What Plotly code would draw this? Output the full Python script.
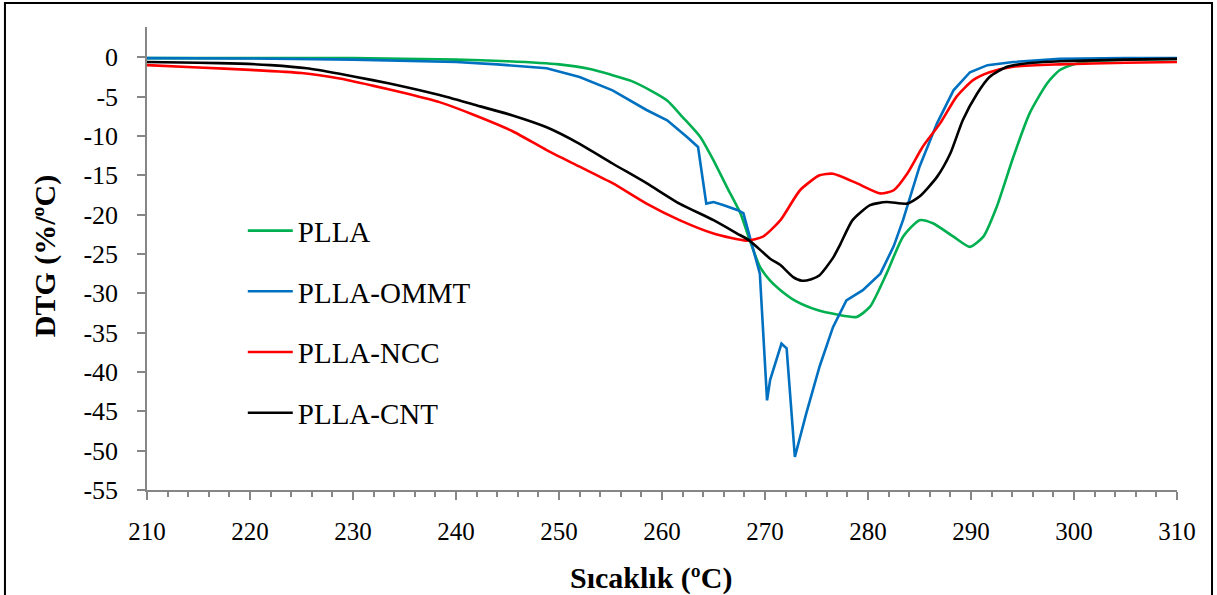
import plotly.graph_objects as go

# ---- data ----
series_names = ["PLLA", "PLLA-OMMT", "PLLA-NCC", "PLLA-CNT"]
series_colors = ["#00B050", "#0070C0", "#FF0000", "#000000"]

plla_T = [210, 220, 230, 240, 245, 250, 253, 255, 257, 259, 260.5, 262, 263.7, 265, 266.3,
          267.6, 268.5, 269.5, 270.5, 271.5, 273, 275, 277, 278.9, 280.2, 281.8, 283.4, 285,
          286.3, 288.3, 289.9, 291.2, 292.5, 294.1, 295.7, 297.4, 298.6, 300, 301.5, 305, 310]
plla_V = [-0.1, -0.1, -0.1, -0.3, -0.5, -0.9, -1.5, -2.2, -3.0, -4.3, -5.5, -7.6, -10.1, -13.1, -16.5,
          -19.8, -23.2, -26.6, -28.4, -29.6, -31.0, -32.1, -32.7, -33.0, -31.7, -27.5, -22.8, -20.7,
          -21.1, -22.8, -24.1, -22.8, -19.0, -12.7, -7.1, -3.3, -1.65, -0.9, -0.5, -0.3, -0.2]

ommt_T = [210, 220, 230, 240, 244, 248.8, 252, 255.2, 258.5, 260.5, 262.4, 263.5, 264.3, 265.0, 266.0,
          267.3, 267.9, 268.5, 269.5, 270.2, 270.5, 271.6, 272.1, 272.9, 274.0, 275.3, 276.6, 277.9,
          279.5, 281.2, 282.5, 283.4, 285.0, 286.7, 288.3, 289.9, 291.6, 294.1, 298.6, 305, 310]
ommt_V = [-0.1, -0.15, -0.3, -0.6, -0.9, -1.4, -2.5, -4.2, -6.7, -8.0, -10.1, -11.4, -18.6, -18.4, -18.8,
          -19.4, -19.8, -22.8, -27.5, -43.6, -41.0, -36.4, -37.0, -50.8, -45.3, -39.3, -34.3, -30.9,
          -29.6, -27.5, -24.0, -20.7, -13.9, -8.4, -4.2, -1.9, -1.0, -0.6, -0.2, -0.1, -0.1]

ncc_T = [210, 215, 220, 225, 228.7, 231.9, 235.2, 238.4, 241.7, 245.5, 248.8, 252, 255.2, 258.5, 261.7,
         265, 268.2, 269.8, 271.5, 273.4, 275.3, 276.6, 278.9, 281.2, 282.5, 283.8, 285.3, 287.0, 288.6,
         290.2, 291.8, 294.1, 298.6, 305, 310]
ncc_V = [-1.0, -1.3, -1.6, -2.0, -2.7, -3.6, -4.6, -5.7, -7.3, -9.4, -11.8, -13.9, -16.0, -18.6, -20.7,
         -22.4, -23.3, -22.8, -20.7, -16.9, -15.0, -14.8, -16.0, -17.3, -16.9, -14.8, -11.4, -8.4, -5.0,
         -2.9, -1.9, -1.2, -0.9, -0.7, -0.6]

cnt_T = [210, 215, 219, 222, 225.5, 228.7, 231.9, 235.2, 238.4, 241.7, 245.5, 248.8, 252, 255.2, 258.5,
         261.7, 265, 267.3, 268.5, 270.5, 271.5, 272.7, 273.6, 274.5, 275.3, 276.6, 277.3, 278.5, 280.2,
         281.8, 283.8, 285, 286.7, 288, 289.2, 290.6, 291.8, 293.5, 296, 298.6, 305, 310]
cnt_V = [-0.6, -0.7, -0.8, -1.0, -1.4, -2.1, -2.9, -3.8, -4.8, -6.0, -7.4, -8.9, -11.0, -13.5, -16.0,
         -18.6, -20.7, -22.4, -23.3, -25.6, -26.4, -27.9, -28.4, -28.2, -27.7, -25.5, -23.8, -20.7, -18.8,
         -18.4, -18.6, -17.7, -15.2, -12.2, -8.0, -4.6, -2.5, -1.2, -0.7, -0.5, -0.3, -0.2]

x_tick_vals = list(range(210, 311, 10))
y_tick_vals = list(range(-55, 1, 5))
y_tick_text = [str(v).replace("\u2212", "-") for v in y_tick_vals]  # plain hyphen minus
x_tick_text = [str(v) for v in x_tick_vals]

FONT = "Liberation Serif, Times New Roman, serif"
AXIS_GRAY = "#868686"

fig = go.Figure()
all_T = [plla_T, ommt_T, ncc_T, cnt_T]
all_V = [plla_V, ommt_V, ncc_V, cnt_V]
for i, name in enumerate(series_names):
    fig.add_trace(go.Scatter(
        x=all_T[i], y=all_V[i], mode="lines", name=name, legendgroup=name,
        line=dict(color=series_colors[i], width=2.6,
                  shape="linear" if name == "PLLA-OMMT" else "spline",
                  smoothing=0.6),
    ))

fig.update_layout(
    width=1217, height=595,
    margin=dict(l=147, r=40, t=27, b=105),
    paper_bgcolor="white", plot_bgcolor="white",
    font=dict(family=FONT, color="black"),
    showlegend=True,
    legend=dict(x=0.093, y=0.615, xanchor="left", yanchor="top",
                font=dict(family=FONT, size=29, color="black"),
                bgcolor="rgba(0,0,0,0)", tracegroupgap=20, itemwidth=45),
    xaxis=dict(range=[210, 310], tickvals=x_tick_vals, ticktext=x_tick_text,
               showgrid=False, zeroline=False,
               showline=True, linecolor=AXIS_GRAY, linewidth=1.5,
               ticks="outside", ticklen=8, tickcolor=AXIS_GRAY, tickwidth=1.5,
               minor=dict(dtick=2, ticks="outside", ticklen=5, tickcolor=AXIS_GRAY, tickwidth=1.5),
               tickfont=dict(family=FONT, size=25, color="black"), ticklabelstandoff=10),
    yaxis=dict(range=[-55, 3.85], tickvals=y_tick_vals, ticktext=y_tick_text,
               showgrid=False, zeroline=False,
               showline=True, linecolor=AXIS_GRAY, linewidth=1.5,
               ticks="outside", ticklen=8, tickcolor=AXIS_GRAY, tickwidth=1.5,
               tickfont=dict(family=FONT, size=26, color="black"), ticklabelstandoff=14),
    annotations=[
        dict(text="<b>Sıcaklık (ºC)</b>", xref="paper", yref="paper", x=0.489, y=-0.19,
             xanchor="center", yanchor="middle", showarrow=False,
             font=dict(family=FONT, size=30, color="black")),
        dict(text="<b>DTG (%/ºC)</b>", xref="paper", yref="paper", x=-0.099, y=0.505,
             xanchor="center", yanchor="middle", showarrow=False, textangle=-90,
             font=dict(family=FONT, size=30, color="black")),
    ],
    shapes=[
        dict(type="rect", xref="paper", yref="paper", x0=-0.1379, x1=1.034, y0=-0.25, y1=1.0518,
             line=dict(color="black", width=2), fillcolor="rgba(0,0,0,0)", layer="above"),
    ],
)

fig.write_html("out.html", config={"displayModeBar": False},
               post_script="document.body.style.margin='0';")
